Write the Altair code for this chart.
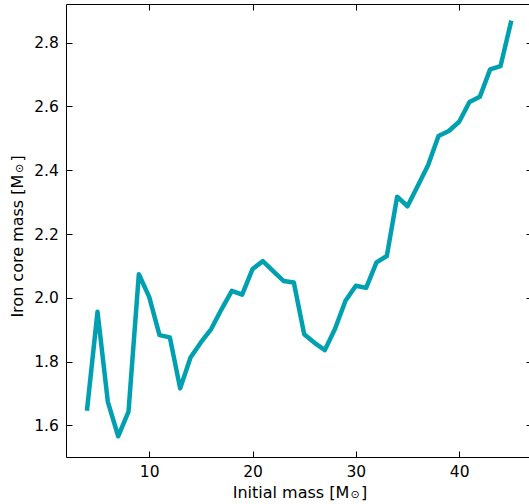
import altair as alt
import pandas as pd

# ---- data ----
initial_mass = list(range(4, 46))
iron_core = [1.653, 1.956, 1.674, 1.566, 1.643, 2.074, 2.003, 1.883, 1.876, 1.716,
             1.813, 1.860, 1.902, 1.964, 2.022, 2.010, 2.090, 2.115, 2.084, 2.053,
             2.048, 1.886, 1.859, 1.836, 1.904, 1.991, 2.038, 2.031, 2.111, 2.131,
             2.317, 2.287, 2.351, 2.416, 2.507, 2.523, 2.552, 2.614, 2.630, 2.716,
             2.726, 2.862]
x_ticks = [10, 20, 30, 40]
y_ticks = [1.6, 1.8, 2.0, 2.2, 2.4, 2.6, 2.8]
x_title = ["Initial mass [M", "\u2299", "]"]
y_title = ["Iron core mass [M", "\u2299", "]"]

df = pd.DataFrame({"m": initial_mass, "c": iron_core})

W, H = 463, 453
FONT = "DejaVu Sans"
COLOR = "#00a0b0"

xs = alt.Scale(domain=[1.95, 46.76], nice=False, zero=False)
ys = alt.Scale(domain=[1.501, 2.921], nice=False, zero=False)

common = dict(grid=False, title=None, tickColor="black", tickWidth=1,
              domainColor="black", domainWidth=1, labelFont=FONT,
              labelFontSize=15.5, labelColor="black",
              tickSize=alt.ExprRef(expr="-6"))

ax_bottom = alt.Axis(orient="bottom", values=x_ticks, labelPadding=13.7, **common)
ax_left = alt.Axis(orient="left", values=y_ticks, format=".1f", labelPadding=13.7, **common)
ax_top = alt.Axis(orient="top", values=x_ticks, labels=False, **common)
ax_right = alt.Axis(orient="right", values=y_ticks, labels=False, domain=False,
                    offset=3, **common)

base = alt.Chart(df)
line = base.mark_line(color=COLOR, strokeWidth=4.5, strokeCap="square",
                      strokeJoin="round").encode(
    x=alt.X("m:Q", scale=xs, axis=ax_bottom),
    y=alt.Y("c:Q", scale=ys, axis=ax_left),
)
ghost = base.mark_line(opacity=0).encode(
    x=alt.X("m:Q", scale=xs, axis=ax_top),
    y=alt.Y("c:Q", scale=ys, axis=ax_right),
)

one = alt.Data(values=[{"k": 0}])

def txt(s, size, x, y, align, baseline, angle=0):
    mk = dict(font=FONT, fontSize=size, color="black", align=align, baseline=baseline)
    if angle:
        mk["angle"] = angle
    return alt.Chart(one).mark_text(**mk).encode(
        x=alt.value(x), y=alt.value(y), text=alt.value(s))

# x title pieces
xt1 = txt(x_title[0], 16, 283.3, 493.7, "right", "alphabetic")
xt2 = txt(x_title[1], 11, 289.0, 491.0, "center", "middle")
xt3 = txt(x_title[2], 16, 295.0, 493.7, "left", "alphabetic")

# y title pieces (rotated)
yb = -43
y0 = 313.6
mend = y0 - 143.6
yt1 = txt(y_title[0], 16, yb, y0, "left", "alphabetic", 270)
yt2 = txt(y_title[1], 11, yb - 2.7, mend - 5.7, "center", "middle", 270)
yt3 = txt(y_title[2], 16, yb, mend - 12.4, "left", "alphabetic", 270)

chart = alt.layer(line, ghost, xt1, xt2, xt3, yt1, yt2, yt3).resolve_axis(
    x="independent", y="independent"
).properties(
    width=W, height=H,
    autosize=alt.AutoSizeParams(type="none"),
    padding={"left": 66, "top": 4, "right": 0, "bottom": 47},
).configure_view(stroke=None)

chart.save("out.html", embed_options={"renderer": "svg", "actions": False})
